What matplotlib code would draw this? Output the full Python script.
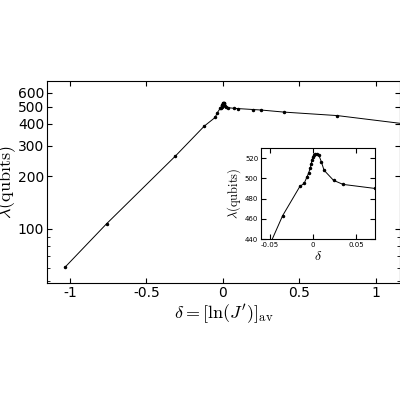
import matplotlib
matplotlib.use("Agg")
import matplotlib.pyplot as plt
import numpy as np
plt.rcParams['mathtext.fontset'] = 'cm'

delta = [-1.03, -0.76, -0.31, -0.12, -0.05, -0.035, -0.015, -0.01, -0.007, -0.005, -0.003, -0.002, -0.001,
         0.0, 0.001, 0.003, 0.005, 0.007, 0.01, 0.013, 0.024, 0.035, 0.072, 0.1, 0.2, 0.25, 0.4, 0.75, 1.2]
lam = [60.6, 107, 261, 388, 434, 463, 492, 495, 501, 505, 510, 514, 518,
       521, 523, 524, 524, 523, 516, 508, 498, 494, 490, 488, 482, 479, 466, 445, 398]
marked = [True]*28 + [False]

fig = plt.figure(figsize=(4, 4), dpi=100)
ax = fig.add_axes([0.1175, 0.2925, 0.8825, 0.505])
ax.plot(delta, lam, color='black', lw=0.7)
d = np.array(delta); l = np.array(lam); m = np.array(marked)
ax.plot(d[m], l[m], 'o', color='black', ms=1.5)
ax.set_yscale('log')
ax.set_xlim(-1.15, 1.16)
ax.set_ylim(49, 702)
ax.set_yticks([100, 200, 300, 400, 500, 600])
ax.set_yticklabels(['100', '200', '300', '400', '500', '600'])
ax.set_xticks([-1, -0.5, 0, 0.5, 1])
ax.set_xticklabels(['-1', '-0.5', '0', '0.5', '1'])
ax.tick_params(labelsize=10, direction='in', top=True, right=True, pad=2)
ax.tick_params(which='minor', direction='in', right=True)
ax.set_xlabel(r"$\delta = [\ln(J')]_{\rm av}$", fontsize=13, labelpad=2)
ax.set_ylabel(r"$\lambda(\rm qubits)$", fontsize=13, labelpad=0)

ins = fig.add_axes([0.6525, 0.4025, 0.285, 0.2275])
ins.plot(delta, lam, color='black', lw=0.7)
ins.plot(d[m], l[m], 'o', color='black', ms=1.5)
ins.set_xlim(-0.06, 0.072)
ins.set_ylim(440, 530)
ins.set_xticks([-0.05, 0, 0.05])
ins.set_xticklabels(['-0.05', '0', '0.05'])
ins.set_yticks([440, 460, 480, 500, 520])
ins.tick_params(labelsize=5, direction='in', top=True, right=True, pad=2)
ins.set_xlabel(r"$\delta$", fontsize=10, labelpad=1)
ins.set_ylabel(r"$\lambda(\rm qubits)$", fontsize=9, labelpad=1)

fig.savefig('out.png', dpi=100)
